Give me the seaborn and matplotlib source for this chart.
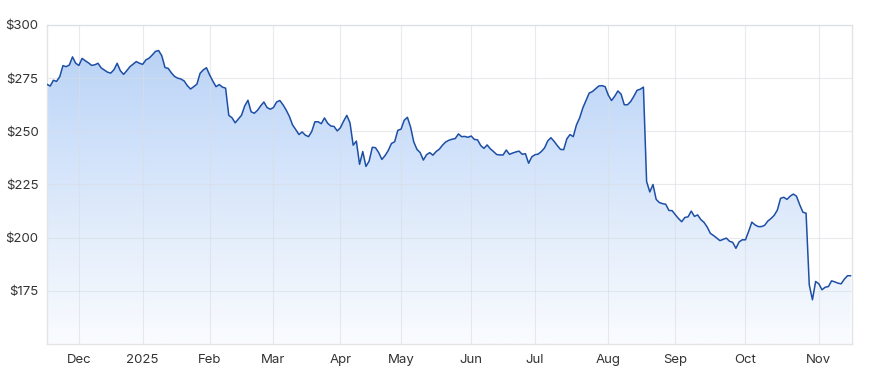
import numpy as np
import pandas as pd
import matplotlib
matplotlib.use("Agg")
import matplotlib.pyplot as plt
import seaborn as sns
from matplotlib.ticker import FuncFormatter
from matplotlib.colors import LinearSegmentedColormap

# ASX trading calendar for the period shown
holidays = ["2024-12-25", "2024-12-26", "2025-01-01", "2025-01-27",
            "2025-04-18", "2025-04-21", "2025-04-25", "2025-06-09"]
dates = pd.bdate_range("2024-11-18", "2025-11-17", freq="C", holidays=holidays)

prices = [
    272.1, 271.3, 274.0, 273.5, 275.7, 280.9, 280.4, 281.2, 285.0, 282.0,
    281.0, 284.3, 283.2, 282.2, 281.0, 281.3, 282.0, 279.8, 278.8, 277.8,
    277.4, 279.0, 282.0, 278.5, 276.8, 278.5, 280.4, 281.6, 282.8, 282.0,
    281.5, 283.6, 284.4, 285.9, 287.6, 288.0, 285.5, 280.0, 279.6, 277.5,
    275.8, 275.0, 274.6, 273.7, 271.5, 269.9, 271.0, 272.2, 277.3, 278.9,
    279.9, 276.5, 273.6, 271.0, 272.0, 270.8, 270.3, 257.5, 256.4, 254.0,
    255.8, 257.6, 262.0, 264.6, 259.2, 258.5, 259.9, 262.0, 263.8, 261.2,
    260.4, 261.2, 263.8, 264.5, 262.5, 260.0, 257.0, 253.0, 250.8, 248.5,
    249.7, 248.2, 247.5, 249.9, 254.5, 254.5, 253.6, 256.3, 253.8, 252.5,
    252.3, 250.2, 251.7, 254.8, 257.5, 254.0, 243.5, 245.4, 234.5, 240.5,
    233.5, 236.0, 242.5, 242.3, 240.0, 236.8, 238.6, 241.0, 244.3, 245.1,
    250.5, 251.0, 255.2, 256.6, 252.0, 245.0, 241.5, 240.0, 236.5, 239.0,
    240.0, 238.8, 240.5, 241.6, 243.5, 245.0, 245.8, 246.3, 246.6, 248.8,
    247.5, 247.6, 247.2, 247.8, 246.2, 246.0, 243.3, 242.0, 243.6, 241.8,
    240.5, 239.1, 238.9, 238.9, 241.2, 239.2, 239.8, 240.3, 240.7, 239.2,
    239.5, 235.0, 238.0, 239.0, 239.3, 240.5, 242.2, 245.5, 247.0, 245.3,
    243.3, 241.5, 241.4, 246.5, 248.5, 247.5, 253.0, 256.3, 261.0, 264.5,
    268.0, 268.7, 270.0, 271.3, 271.5, 271.0, 267.0, 264.5, 266.5, 269.0,
    267.5, 262.5, 262.5, 264.0, 266.5, 269.3, 269.8, 270.8, 226.4, 221.5,
    225.0, 218.0, 216.5, 216.0, 215.7, 212.8, 212.7, 210.8, 209.0, 207.5,
    209.5, 209.8, 212.5, 210.0, 210.7, 208.5, 207.2, 205.0, 202.0, 201.0,
    199.8, 198.6, 199.2, 199.8, 198.3, 197.8, 195.0, 198.0, 199.0, 199.0,
    203.0, 207.3, 206.0, 205.2, 205.2, 205.8, 207.8, 209.0, 210.5, 213.0,
    218.5, 219.0, 218.0, 219.5, 220.5, 219.5, 215.5, 212.0, 211.5, 177.8,
    170.8, 179.4, 178.3, 175.5, 176.7, 177.0, 179.7, 179.2, 178.6, 178.3,
    180.5, 182.1, 182.1,
]

month_labels = ["Dec", "2025", "Feb", "Mar", "Apr", "May", "Jun",
                "Jul", "Aug", "Sep", "Oct", "Nov"]
y_ticks = [175, 200, 225, 250, 275, 300]

n = min(len(dates), len(prices))
df = pd.DataFrame({"day": np.arange(n), "price": prices[:n], "date": dates[:n]})

# first trading day of each month (after the first partial month)
period = df["date"].dt.to_period("M")
first_idx = df.groupby(period)["day"].min().tolist()[1:]

sns.set_theme(style="white")
plt.rcParams["font.family"] = ["Inter", "DejaVu Sans"]

fig = plt.figure(figsize=(8.71, 3.83), dpi=100)
ax = fig.add_axes([47 / 871, 1 - 344 / 383, 805 / 871, 319 / 383])

ymin, ymax = 150, 300
xmax = n - 1 + 0.4

# gradient fill under the line
cmap = LinearSegmentedColormap.from_list(
    "g", [(0.0, "#fafcff"), (0.35, "#e3edfb"), (0.7, "#cadefa"), (1.0, "#b5cff2")])
grad = np.linspace(0, 1, 256).reshape(-1, 1)
im = ax.imshow(grad, extent=[0, xmax, ymin, ymax], origin="lower",
               aspect="auto", cmap=cmap, zorder=1)
poly = ax.fill_between(df["day"], df["price"], ymin, color="none", lw=0)
im.set_clip_path(poly.get_paths()[0], transform=ax.transData)

sns.lineplot(data=df, x="day", y="price", ax=ax, color="#1d4fa6",
             linewidth=1.1, zorder=3)

ax.set_xlim(0, xmax)
ax.set_ylim(ymin, ymax)
ax.set_yticks(y_ticks)
ax.yaxis.set_major_formatter(FuncFormatter(lambda v, p: f"${v:.0f}"))
ax.set_xticks(first_idx[:len(month_labels)])
ax.set_xticklabels(month_labels[:len(first_idx)])
ax.set_xlabel("")
ax.set_ylabel("")

ax.grid(True, color="#d9dde3", linewidth=0.8, alpha=0.6, zorder=2)
ax.set_axisbelow(False)
for line in ax.get_xgridlines() + ax.get_ygridlines():
    line.set_zorder(2)
for s in ax.spines.values():
    s.set_color("#e2e4e8")
    s.set_linewidth(1.0)

ax.tick_params(axis="both", length=0, labelsize=9.5, colors="#333333")
ax.tick_params(axis="x", pad=7)
ax.tick_params(axis="y", pad=6)

fig.savefig("out.png", dpi=100)
